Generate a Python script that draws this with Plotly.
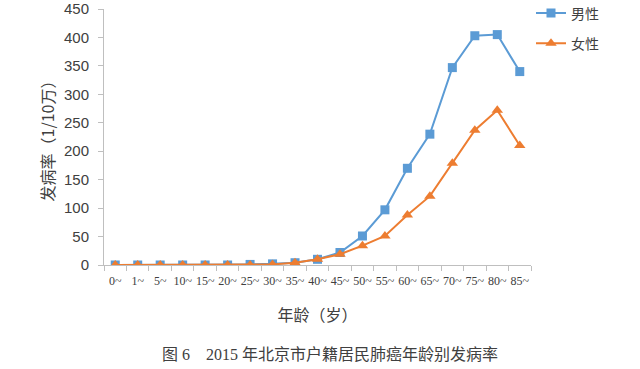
import plotly.graph_objects as go

categories = ["0~", "1~", "5~", "10~", "15~", "20~", "25~", "30~", "35~", "40~",
              "45~", "50~", "55~", "60~", "65~", "70~", "75~", "80~", "85~"]
male = [0, 0, 0, 0, 0, 0, 1, 2, 4, 10, 22, 51, 97, 170, 230, 347, 403, 405, 340]
female = [0, 0, 0, 0, 0, 0, 0, 1, 4, 10, 19, 34, 51, 88, 121, 179, 237, 272, 210]
y_ticks = [0, 50, 100, 150, 200, 250, 300, 350, 400, 450]

fig = go.Figure()
fig.add_trace(go.Scatter(x=categories, y=male, name="男性", mode="lines+markers",
                         legendgroup="m",
                         line=dict(color="#5B9BD5", width=2),
                         marker=dict(symbol="square", size=9, color="#5B9BD5")))
fig.add_trace(go.Scatter(x=categories, y=female, name="女性", mode="lines+markers",
                         legendgroup="f",
                         line=dict(color="#ED7D31", width=2),
                         marker=dict(symbol="triangle-up", size=10, color="#ED7D31")))

axis_col = "#BFBFBF"
fig.update_layout(
    width=640, height=369,
    margin=dict(l=104, r=109, t=9, b=104, autoexpand=False),
    paper_bgcolor="white", plot_bgcolor="white",
    font=dict(family="Liberation Sans, Noto Sans CJK SC", color="#404040"),
    xaxis=dict(type="category", range=[-0.5, 18.5], showgrid=False,
               showline=True, linecolor=axis_col, linewidth=1,
               ticks="outside", tickson="boundaries", ticklen=5, tickcolor=axis_col,
               tickangle=0, automargin=False, ticklabelstandoff=5,
               tickfont=dict(family="Liberation Serif, Noto Sans CJK SC", size=12, color="#404040"),
               title=dict(text="年龄（岁）", standoff=22,
                          font=dict(family="Noto Sans CJK SC", size=16, color="#404040")),
               fixedrange=True),
    yaxis=dict(range=[0, 450], tickvals=y_ticks, showgrid=False, zeroline=False,
               showline=True, linecolor=axis_col, linewidth=1,
               ticks="outside", ticklen=5, tickcolor=axis_col, automargin=False,
               ticklabelstandoff=6,
               tickfont=dict(size=15, color="#404040"),
               title=dict(text="发病率（1/10万）", standoff=5,
                          font=dict(family="Noto Sans CJK SC", size=16, color="#404040")),
               fixedrange=True),
    legend=dict(x=1.0, y=1.045, xanchor="left", yanchor="top",
                font=dict(family="Noto Sans CJK SC", size=14, color="#404040"),
                tracegroupgap=9, traceorder="grouped",
                bgcolor="rgba(0,0,0,0)"),
    annotations=[dict(text="图 6　2015 年北京市户籍居民肺癌年龄别发病率",
                      xref="paper", yref="paper", x=0.53, y=-0.348,
                      xanchor="center", yanchor="middle", showarrow=False,
                      font=dict(family="Liberation Serif, Noto Sans CJK SC", size=16, color="#404040"))],
)

fig.write_html("out.html", config={"displayModeBar": False},
               post_script="document.body.style.margin='0';")
